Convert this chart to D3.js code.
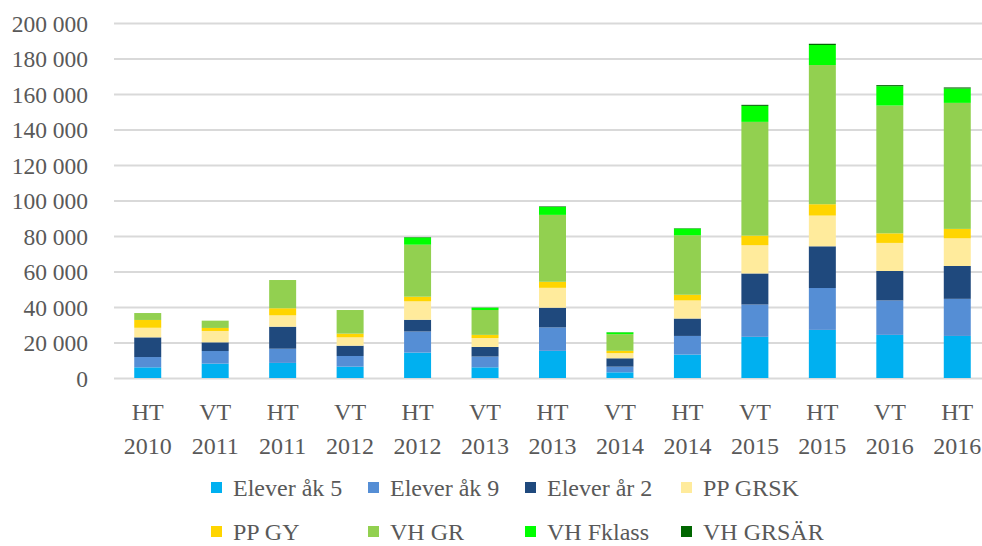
<!DOCTYPE html>
<html>
<head>
<meta charset="utf-8">
<script src="https://cdn.jsdelivr.net/npm/d3@7"></script>
<style>
  body { margin: 0; background: #fff; }
  svg { display: block; font-family: 'Liberation Serif', 'Times New Roman', serif; }
</style>
</head>
<body>
<svg id="chart" width="982" height="546"></svg>
<script>
const categories = [
    ['HT', '2010'], ['VT', '2011'], ['HT', '2011'], ['VT', '2012'],
    ['HT', '2012'], ['VT', '2013'], ['HT', '2013'], ['VT', '2014'],
    ['HT', '2014'], ['VT', '2015'], ['HT', '2015'], ['VT', '2016'],
    ['HT', '2016'],
]

const seriesNames = [
    'Elever åk 5', 'Elever åk 9', 'Elever år 2', 'PP GRSK',
    'PP GY', 'VH GR', 'VH Fklass', 'VH GRSÄR',
]

const elevAk5 = [6000, 8100, 8500, 6400, 14300, 6000, 15300, 3200, 13200, 23200, 27100, 24300, 23700]
const elevAk9 = [5800, 7100, 8000, 6000, 11900, 6100, 13200, 3200, 10500, 18200, 23600, 19400, 20900]
const elevAr2 = [11100, 4900, 12400, 5800, 6600, 5400, 11100, 4700, 9800, 17500, 23500, 16600, 18500]
const ppGrsk = [5400, 6400, 6400, 4700, 10400, 5000, 11200, 2900, 10200, 15900, 17300, 15800, 15600]
const ppGy = [4400, 1700, 4000, 2100, 2600, 1800, 3400, 1300, 3200, 5400, 6400, 5400, 5300]
const vhGr = [3900, 4100, 15900, 13300, 29300, 14000, 37700, 9400, 33500, 64100, 78400, 72000, 71000]
const vhFklass = [0, 0, 0, 0, 4100, 1300, 4500, 1000, 3800, 9000, 11300, 10900, 8100]
const vhGrsar = [0, 0, 0, 0, 200, 100, 300, 100, 200, 600, 700, 600, 600]

const yTicks = [0, 20000, 40000, 60000, 80000, 100000, 120000, 140000, 160000, 180000, 200000]

const colors = ['#00b0f0', '#558ed5', '#1f497d', '#ffeb9c', '#ffd500', '#92d050', '#00ff00', '#006600']

const allSeries = [elevAk5, elevAk9, elevAr2, ppGrsk, ppGy, vhGr, vhFklass, vhGrsar]
const keys = seriesNames
const rows = categories.map((c, i) => {
    const row = { cat: c.join(' ') }
    keys.forEach((k, j) => { row[k] = allSeries[j][i] })
    return row
})

const svg = d3.select('#chart')
const textColor = '#595959'
const plot = { left: 114, right: 991, top: 23, bottom: 378 }

const xScale = d3.scaleBand()
    .domain(rows.map((d) => d.cat))
    .range([plot.left, plot.right])
const barWidth = xScale.bandwidth() * 0.4

const yScale = d3.scaleLinear()
    .domain([0, 200000])
    .range([plot.bottom, plot.top])

const locale = d3.formatLocale({ decimal: ',', thousands: ' ', grouping: [3], currency: ['', ' kr'] })
const fmt = locale.format(',d')

// gridlines + y labels
const yAxis = d3.axisLeft(yScale)
    .tickValues(yTicks)
    .tickFormat(fmt)
    .tickSize(-(plot.right - plot.left))
    .tickPadding(26)
const gy = svg.append('g')
    .attr('transform', `translate(${plot.left}, 0)`)
    .call(yAxis)
    .attr('font-family', null)
    .attr('font-size', null)
gy.select('.domain').remove()
gy.selectAll('.tick line')
    .attr('stroke', '#d9d9d9')
    .attr('stroke-width', 2)
gy.selectAll('.tick text')
    .attr('fill', textColor)
    .style('font-size', '23.5px')
    .attr('dy', '0.34em')

const stackedData = d3.stack().keys(keys)(rows)

svg.append('g')
    .selectAll('g')
    .data(stackedData)
    .join('g')
    .attr('fill', (d, i) => colors[i])
    .selectAll('rect')
    .data((d) => d)
    .join('rect')
    .attr('x', (d) => xScale(d.data.cat) + (xScale.bandwidth() - barWidth) / 2)
    .attr('width', barWidth)
    .attr('y', (d) => yScale(d[1]))
    .attr('height', (d) => yScale(d[0]) - yScale(d[1]))

// category labels on two lines
const xLabels = svg.append('g')
    .selectAll('text')
    .data(categories)
    .join('text')
    .attr('x', (d) => xScale(d.join(' ')) + xScale.bandwidth() / 2)
    .attr('y', 420)
    .attr('text-anchor', 'middle')
    .attr('fill', textColor)
    .style('font-size', '24px')
xLabels.append('tspan').text((d) => d[0])
xLabels.append('tspan')
    .attr('x', (d) => xScale(d.join(' ')) + xScale.bandwidth() / 2)
    .attr('dy', 34)
    .text((d) => d[1])

// legend, 4 per row
const colX = [211, 368, 525, 681]
const rowY = [482, 526]
const legend = svg.append('g')
    .selectAll('g')
    .data(keys)
    .join('g')
    .attr('transform', (d, i) => `translate(${colX[i % 4]}, ${rowY[Math.floor(i / 4)]})`)
legend.append('rect')
    .attr('width', 11)
    .attr('height', 11)
    .attr('fill', (d, i) => colors[i])
legend.append('text')
    .attr('x', 22)
    .attr('y', 14)
    .attr('fill', textColor)
    .style('font-size', '24px')
    .text((d) => d)
</script>
</body>
</html>
